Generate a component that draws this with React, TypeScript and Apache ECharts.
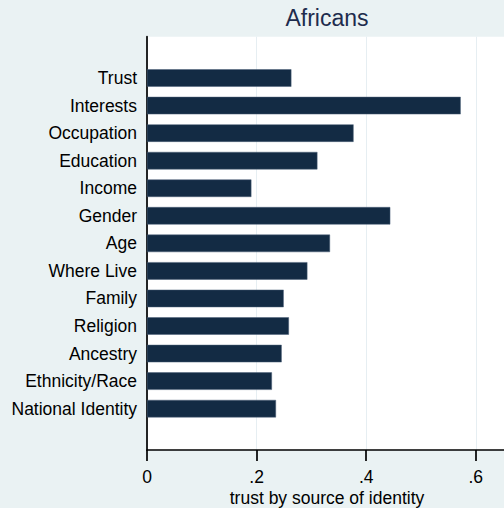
import React, { useEffect, useRef } from "react";
import * as echarts from "echarts";

// Sources of identity, listed top to bottom
const categories = [
  "Trust",
  "Interests",
  "Occupation",
  "Education",
  "Income",
  "Gender",
  "Age",
  "Where Live",
  "Family",
  "Religion",
  "Ancestry",
  "Ethnicity/Race",
  "National Identity",
];

// Mean trust for each source of identity
const trustValues = [
  0.2635, 0.5725, 0.377, 0.311, 0.1905, 0.444, 0.334, 0.2927, 0.2495, 0.259,
  0.2458, 0.228, 0.2354,
];

const xTicks = [0, 0.2, 0.4, 0.6];
const groupTitle = "Africans";
const xTitle = "trust by source of identity";

const FONT = "'Liberation Sans', Arial, Helvetica, sans-serif";
const BG = "#eaf2f3";
const BAR = "#132b44";

export default function App() {
  const ref = useRef<HTMLDivElement>(null);

  useEffect(() => {
    if (!ref.current) return;
    const chart = echarts.init(ref.current, undefined, { renderer: "svg" });

    // an empty slot above and below the bars leaves room inside the plot
    const axisCats = ["", ...categories, ""];
    const barData = [null, ...trustValues, null];

    const fmt = (v: number) => {
      if (!xTicks.some((t) => Math.abs(t - v) < 1e-9)) return "";
      if (v === 0) return "0";
      return String(Number(v.toFixed(1))).replace(/^0/, "");
    };

    // group title and x-axis title are both centred over the plot region
    const plotCenterX = 327;

    chart.setOption({
      animation: false,
      backgroundColor: BG,
      textStyle: { fontFamily: FONT },
      graphic: [
        {
          type: "text",
          x: plotCenterX,
          y: 18,
          style: {
            text: groupTitle,
            fill: "#1e2c4d",
            font: `23px ${FONT}`,
            textAlign: "center",
            textVerticalAlign: "middle",
          },
        },
        {
          type: "text",
          x: plotCenterX,
          y: 498,
          style: {
            text: xTitle,
            fill: "#000",
            font: `17.5px ${FONT}`,
            textAlign: "center",
            textVerticalAlign: "middle",
          },
        },
      ],
      grid: {
        left: 147,
        top: 36.7,
        width: 360,
        height: 413.3,
        containLabel: false,
        outerBoundsMode: "none",
        show: true,
        backgroundColor: "#ffffff",
        borderWidth: 0,
      },
      xAxis: {
        type: "value",
        min: 0,
        max: 0.657,
        interval: 0.2,
        axisLine: { show: true, lineStyle: { color: "#000", width: 1.7 } },
        axisTick: { show: true, length: 11, lineStyle: { color: "#000", width: 1.7 } },
        axisLabel: {
          showMaxLabel: false,
          color: "#000",
          fontSize: 17.5,
          fontFamily: FONT,
          margin: 18,
          formatter: fmt,
        },
        splitLine: { show: true, lineStyle: { color: "#e6eef2", width: 1 } },
      },
      yAxis: {
        type: "category",
        inverse: true,
        data: axisCats,
        axisLine: { show: true, lineStyle: { color: "#000", width: 1.7 } },
        axisTick: { show: false },
        axisLabel: { color: "#000", fontSize: 17.5, fontFamily: FONT, margin: 10, interval: 0 },
        splitLine: { show: false },
      },
      series: [
        {
          type: "bar",
          data: barData,
          barWidth: 17.5,
          itemStyle: { color: BAR, borderColor: "#4d6178", borderWidth: 0.5 },
        },
      ],
    });

    return () => chart.dispose();
  }, []);

  return (
    <div
      ref={ref}
      style={{ position: "fixed", left: 0, top: 0, width: 504, height: 508, background: BG }}
    />
  );
}
